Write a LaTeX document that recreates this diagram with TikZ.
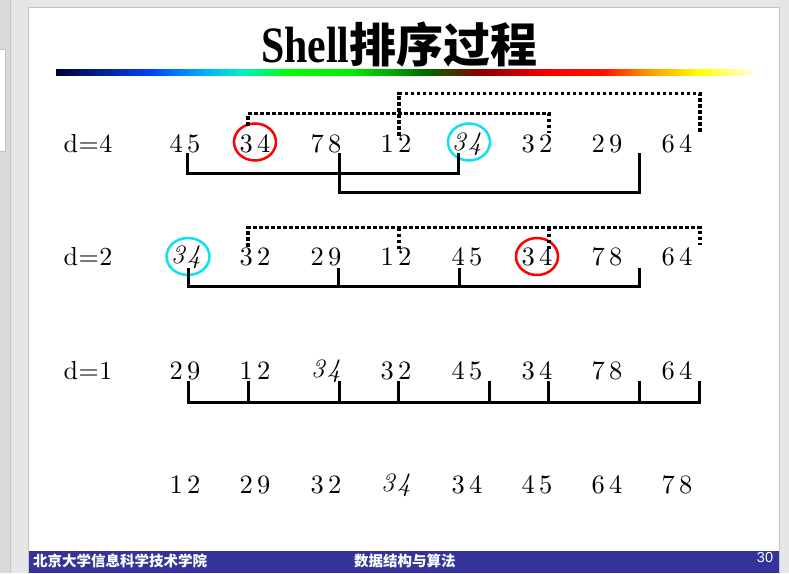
\documentclass[tikz,border=0pt]{standalone}
\usepackage{graphicx}
\usepackage{fontspec}
\newfontfamily\numfont{lmroman10}[Extension=.otf, UprightFont=*-regular, ItalicFont=*-italic, BoldFont=*-bold]
\newfontfamily\titlefont{Liberation Serif}
\newfontfamily\cjk{Noto Sans CJK SC}
\newfontfamily\footsans{Liberation Sans}
\definecolor{bggrey}{HTML}{E6E6E6}
\definecolor{panelgrey}{HTML}{DADADA}
\definecolor{edgegrey}{HTML}{C4C4C4}
\definecolor{footblue}{HTML}{333399}
\definecolor{ringred}{HTML}{FF0000}
\definecolor{ringcyan}{HTML}{11E0EE}
\definecolor{rb0}{HTML}{000033}
\definecolor{rb1}{HTML}{0044FF}
\definecolor{rb2}{HTML}{00AAFF}
\definecolor{rb3}{HTML}{00EECC}
\definecolor{rb4}{HTML}{00FF00}
\definecolor{rb5}{HTML}{00EE00}
\definecolor{rb6}{HTML}{006600}
\definecolor{rb7}{HTML}{880000}
\definecolor{rb8}{HTML}{FF0000}
\definecolor{rb9}{HTML}{FF1100}
\definecolor{rb10}{HTML}{FF9900}
\definecolor{rb11}{HTML}{FFFF00}
\definecolor{rb12}{HTML}{FFFFF0}
\pgfdeclarehorizontalshading{rainbowbar}{100bp}{color(0bp)=(rb0); color(25bp)=(rb0); color(31.8bp)=(rb1); color(35.4bp)=(rb2); color(38.2bp)=(rb3); color(41.7bp)=(rb4); color(46.2bp)=(rb5); color(51.6bp)=(rb6); color(55.2bp)=(rb7); color(60.5bp)=(rb8); color(64.2bp)=(rb9); color(67.4bp)=(rb10); color(71bp)=(rb11); color(75bp)=(rb12); color(100bp)=(rb12)}
\newcommand\tw[2]{#1\kern4.5pt#2}
\newcommand\twi[2]{{\itshape #1\kern2.5pt#2}}
\tikzset{
  num/.style={inner sep=0pt, font=\numfont\fontsize{26.5}{26.5}\selectfont},
  lab/.style={inner sep=0pt, font=\numfont\fontsize{26}{26}\selectfont},
  link/.style={line width=3pt},
  dots/.style={line width=3.5pt, dash pattern=on 3.5pt off 2.5pt},
  ring/.style={line width=2.5pt},
  foot/.style={inner sep=0pt, text=white, font=\cjk\bfseries\fontsize{14.5}{14.5}\selectfont},
}
\begin{document}
\begin{tikzpicture}[x=1pt,y=-1pt]
\useasboundingbox (0,0) rectangle (789,573);
% window background
\fill[bggrey] (0,0) rectangle (789,573);
\fill[panelgrey] (0,0) rectangle (10,573);
\draw[edgegrey] (10.5,0) -- (10.5,573);
\filldraw[fill=white,draw=edgegrey] (-2,49.5) rectangle (5.5,151.5);
% slide
\filldraw[fill=white,draw=edgegrey] (28.5,7.5) rectangle (779.5,575);
% title
\node[anchor=base west, inner sep=0pt] (title) at (261,62)
  {{\titlefont\bfseries\fontsize{51}{51}\selectfont\scalebox{0.82}[1]{Shell}}{\cjk\bfseries\fontsize{47}{47}\selectfont 排序过程}};
\shade[shading=rainbowbar] (56,69) rectangle (755,75);
% labels
\node[lab] (la) at (88,144) {d\kern0.5pt=\kern0.5pt4};
\node[lab] (lb) at (88,257) {d\kern0.5pt=\kern0.5pt2};
\node[lab] (lc) at (88,371) {d\kern0.5pt=\kern0.5pt1};
% row 1
\node[num] (a1) at (185,144) {\tw45};
\node[num] (a2) at (255,144) {\tw34};
\node[num] (a3) at (326,144) {\tw78};
\node[num] (a4) at (396,144) {\tw12};
\node[num] (a5) at (467,144) {\twi34};
\node[num] (a6) at (537,144) {\tw32};
\node[num] (a7) at (607,144) {\tw29};
\node[num] (a8) at (677,144) {\tw64};
% row 2
\node[num] (b1) at (186,257) {\twi34};
\node[num] (b2) at (255,257) {\tw32};
\node[num] (b3) at (326,257) {\tw29};
\node[num] (b4) at (396,257) {\tw12};
\node[num] (b5) at (467,257) {\tw45};
\node[num] (b6) at (537,257) {\tw34};
\node[num] (b7) at (607,257) {\tw78};
\node[num] (b8) at (677,257) {\tw64};
% row 3
\node[num] (c1) at (185,371) {\tw29};
\node[num] (c2) at (255,371) {\tw12};
\node[num] (c3) at (326,371) {\twi34};
\node[num] (c4) at (396,371) {\tw32};
\node[num] (c5) at (467,371) {\tw45};
\node[num] (c6) at (537,371) {\tw34};
\node[num] (c7) at (607,371) {\tw78};
\node[num] (c8) at (677,371) {\tw64};
% row 4
\node[num] (e1) at (185,485) {\tw12};
\node[num] (e2) at (255,485) {\tw29};
\node[num] (e3) at (326,485) {\tw32};
\node[num] (e4) at (396,485) {\twi34};
\node[num] (e5) at (467,485) {\tw34};
\node[num] (e6) at (537,485) {\tw45};
\node[num] (e7) at (607,485) {\tw64};
\node[num] (e8) at (677,485) {\tw78};
% rings
\draw[ring,ringred] ([yshift=2pt]a2.center) ellipse [x radius=21, y radius=18.5];
\draw[ring,ringcyan] ([xshift=2pt,yshift=2pt]a5.center) ellipse [x radius=21, y radius=18.5];
\draw[ring,ringcyan] ([xshift=2pt,yshift=0.5pt]b1.center) ellipse [x radius=21.5, y radius=18.5];
\draw[ring,ringred] ([yshift=0.5pt]b6.center) ellipse [x radius=21, y radius=18.5];
% row 1 connectors
\coordinate (h1a) at ([yshift=-20pt]a1.south);
\coordinate (h1b) at ([yshift=-39pt]a1.south);
\draw[link] ([xshift=2pt]a1.south) -- ([xshift=2pt]a1.south |- h1a) -| ([xshift=-9pt]a5.south |- a1.south);
\draw[link] ([xshift=13pt]a3.south) -- ([xshift=13pt]a3.south |- h1b) -| ([xshift=32pt]a7.south);
\draw[dots] ([xshift=-7pt,yshift=9pt]a2.north) |- ([xshift=12pt,yshift=21pt]a6.north) -- ([xshift=12pt,yshift=2pt]a6.north);
\draw[dots] ([xshift=3pt,yshift=-1pt]a4.north) |- ([xshift=23pt,yshift=41pt]a8.north) -- ([xshift=23pt,yshift=3pt]a8.north);
% row 2 connectors
\coordinate (t2) at ([yshift=20pt]b2.north);
\draw[dots] ([xshift=-7pt,yshift=1pt]b2.north) |- ([xshift=23pt]b8.north |- t2) -- ([xshift=23pt,yshift=3pt]b8.north);
\draw[dots] ([xshift=3pt]b4.north |- t2) -- ([xshift=3pt,yshift=-1pt]b4.north);
\draw[dots] ([xshift=12pt]b6.north |- t2) -- ([xshift=12pt,yshift=-2pt]b6.north);
\coordinate (h2) at ([yshift=-20pt]b2.south);
\coordinate (s2) at ([yshift=-2pt]b2.south);
\draw[link] ([xshift=2pt]b1.south |- s2) -- ([xshift=2pt]b1.south |- h2) -| ([xshift=32pt]b7.south |- s2);
\draw[link] ([xshift=12pt]b3.south |- s2) -- ([xshift=12pt]b3.south |- h2);
\draw[link] ([xshift=-8pt]b5.south |- s2) -- ([xshift=-8pt]b5.south |- h2);
% row 3 connectors
\coordinate (h3) at ([yshift=-22pt]c1.south);
\coordinate (s3) at ([yshift=-1pt]c1.south);
\draw[link] ([xshift=3pt]c1.south |- s3) -- ([xshift=3pt]c1.south |- h3) -| ([xshift=22pt]c8.south |- s3);
\draw[link] ([xshift=-7pt]c2.south |- s3) -- ([xshift=-7pt]c2.south |- h3);
\draw[link] ([xshift=13pt]c3.south |- s3) -- ([xshift=13pt]c3.south |- h3);
\draw[link] ([xshift=2pt]c4.south |- s3) -- ([xshift=2pt]c4.south |- h3);
\draw[link] ([xshift=22pt]c5.south |- s3) -- ([xshift=22pt]c5.south |- h3);
\draw[link] ([xshift=11pt]c6.south |- s3) -- ([xshift=11pt]c6.south |- h3);
\draw[link] ([xshift=32pt]c7.south |- s3) -- ([xshift=32pt]c7.south |- h3);
% footer
\fill[footblue] (29,551) rectangle (779,573);
\node[foot, anchor=west] (f1) at (33,561) {北京大学信息科学技术学院};
\node[foot, anchor=west] (f2) at (354,561) {数据结构与算法};
\node[inner sep=0pt, text=white, font=\footsans\fontsize{14.5}{14.5}\selectfont] (f3) at (765,557) {30};
\end{tikzpicture}
\end{document}
